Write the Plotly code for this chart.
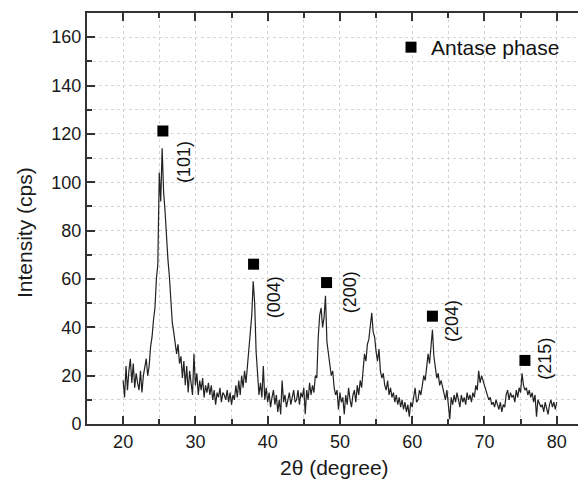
import plotly.graph_objects as go

# 2-theta grid (0.2 degree steps, 20..80) and intensity values
two_theta = [round(20 + 0.2 * i, 1) for i in range(301)]
intensity = [
    18, 11, 24, 14, 22, 27, 17, 25, 15, 21,   # 20.0-21.8
    17, 14, 22, 13, 20, 24, 27, 20, 24, 32,   # 22.0-23.8
    36, 43, 48, 60, 66, 104, 92, 114, 96, 88,  # 24.0-25.8
    76, 68, 61, 50, 42, 38, 32, 29, 33, 25,   # 26.0-27.8
    28, 19, 26, 16, 24, 13, 22, 17, 12, 29,   # 28.0-29.8
    16, 21, 12, 18, 14, 19, 11, 16, 13, 17,   # 30.0-31.8
    12, 16, 10, 14, 8, 13, 11, 15, 9, 13,     # 32.0-33.8
    12, 10, 14, 9, 13, 8, 12, 10, 16, 11,     # 34.0-35.8
    18, 12, 20, 15, 22, 17, 24, 28, 35, 45,   # 36.0-37.8
    59, 50, 30, 18, 12, 17, 11, 24, 10, 15,   # 38.0-39.8
    9, 13, 7, 11, 14, 8, 12, 5, 10, 4,        # 40.0-41.8
    18, 9, 12, 7, 10, 13, 8, 11, 14, 9,       # 42.0-43.8
    10, 14, 8, 13, 11, 15, 4, 14, 10, 17,     # 44.0-45.8
    12, 16, 13, 20, 19, 36, 45, 48, 40, 44,   # 46.0-47.8
    53, 34, 30, 24, 20, 22, 15, 12, 14, 6,    # 48.0-49.8
    13, 9, 11, 4, 12, 8, 15, 10, 7, 12,       # 50.0-51.8
    14, 9, 16, 12, 18, 15, 24, 29, 26, 33,    # 52.0-53.8
    35, 40, 46, 38, 36, 30, 26, 31, 22, 19,   # 54.0-55.8
    21, 16, 14, 18, 12, 15, 11, 13, 9, 12,    # 56.0-57.8
    8, 11, 7, 10, 6, 9, 5, 8, 3, 9,           # 58.0-59.8
    7, 11, 15, 9, 10, 14, 12, 16, 20, 18,     # 60.0-61.8
    24, 29, 25, 31, 39, 28, 24, 19, 21, 16,   # 62.0-63.8
    18, 15, 12, 10, 14, 8, 2, 11, 8, 12,      # 64.0-65.8
    9, 13, 10, 7, 12, 9, 11, 8, 13, 10,       # 66.0-67.8
    12, 9, 13, 11, 16, 14, 22, 17, 20, 18,    # 68.0-69.8
    16, 14, 12, 10, 11, 8, 9, 7, 10, 8,       # 70.0-71.8
    6, 9, 5, 8, 7, 12, 14, 10, 13, 11,        # 72.0-73.8
    12, 9, 14, 11, 15, 13, 21, 16, 14, 15,    # 74.0-75.8
    12, 14, 11, 13, 9, 12, 3, 10, 8, 7,       # 76.0-77.8
    8, 5, 9, 6, 4, 8, 10, 7, 9, 6,            # 78.0-79.8
    9,                                        # 80.0
]

# anatase peak markers
peak_x = [25.5, 38.05, 48.15, 62.8, 75.6]
peak_y = [121.2, 66.1, 58.5, 44.6, 26.3]

# hkl labels
label_text = ["(101)", "(004)", "(200)", "(204)", "(215)"]
label_x = [28.4, 40.9, 51.4, 65.6, 78.4]
label_y = [108.3, 52.5, 54.5, 42.5, 27.1]

x_ticks = [20, 30, 40, 50, 60, 70, 80]
y_ticks = [0, 20, 40, 60, 80, 100, 120, 140, 160]

FONT = "Liberation Sans, Arial, sans-serif"

fig = go.Figure()
fig.add_trace(go.Scatter(
    x=two_theta, y=intensity, mode="lines",
    line=dict(color="#222222", width=1.2),
    showlegend=False, hoverinfo="skip",
))
fig.add_trace(go.Scatter(
    x=peak_x, y=peak_y, mode="markers",
    marker=dict(symbol="square", size=11, color="black"),
    name="Antase phase", showlegend=True,
))

for t, x, y in zip(label_text, label_x, label_y):
    fig.add_annotation(x=x, y=y, text=t, textangle=-90, showarrow=False,
                       xanchor="center", yanchor="middle",
                       font=dict(family=FONT, size=18, color="#111"))

axis_common = dict(
    showline=True, linecolor="#333", linewidth=2,
    ticks="inside", tickcolor="#333", tickwidth=1.5, ticklen=8,
    showgrid=True, gridcolor="#d4d4d4", griddash="dot", gridwidth=1,
    zeroline=False, automargin=False,
    tickfont=dict(family=FONT, size=18, color="#1a1a1a"),
)

fig.update_xaxes(
    range=[15, 84.05], tickvals=x_ticks, ticktext=[str(v) for v in x_ticks],
    mirror="ticks",
    minor=dict(dtick=5, tick0=0, ticks="inside", ticklen=5, tickcolor="#333",
               showgrid=True, gridcolor="#d4d4d4", griddash="dot"),
    **axis_common,
)
fig.update_yaxes(
    range=[0, 170], tickvals=y_ticks, ticktext=[str(v) for v in y_ticks],
    minor=dict(dtick=10, tick0=0, ticks="inside", ticklen=5, tickcolor="#333",
               showgrid=True, gridcolor="#d4d4d4", griddash="dot"),
    **axis_common,
)

# the page body adds an 8px offset, so the figure is 8px smaller than the window
fig.add_annotation(xref="paper", yref="paper", x=(334 - 87) / 499, y=-(467 - 424) / 411,
                   xanchor="center", yanchor="middle",
                   text="2θ (degree)", showarrow=False,
                   font=dict(family=FONT, size=21, color="#1a1a1a"))
fig.add_annotation(xref="paper", yref="paper", x=-(87 - 24) / 499, y=(424 - 233) / 411,
                   xanchor="center", yanchor="middle",
                   text="Intensity (cps)", textangle=-90, showarrow=False,
                   font=dict(family=FONT, size=21, color="#1a1a1a"))

fig.update_layout(
    width=578, height=473,
    margin=dict(l=79, r=0, t=5, b=57, autoexpand=False),
    paper_bgcolor="white", plot_bgcolor="white",
    legend=dict(x=(391 - 87) / 499, y=(424 - 27) / 411, xanchor="left", yanchor="top",
                bgcolor="rgba(0,0,0,0)", font=dict(family=FONT, size=21, color="#111"),
                itemsizing="trace"),
)

fig.write_html("out.html")
